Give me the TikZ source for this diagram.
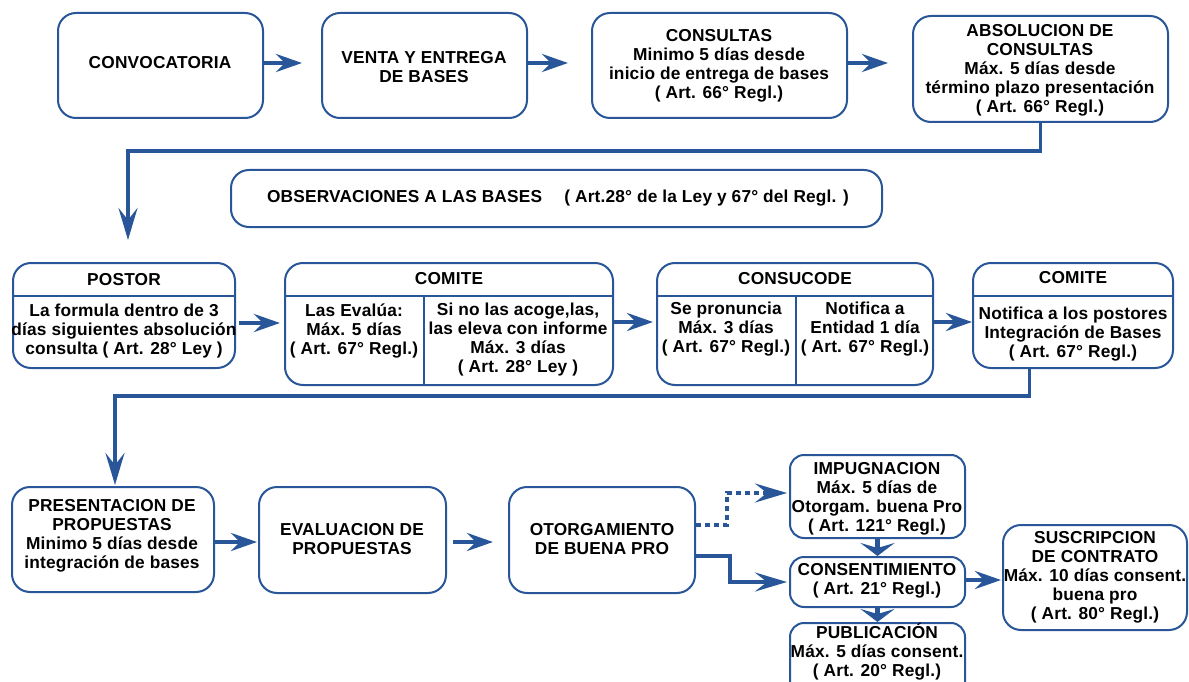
\documentclass[tikz,border=0pt]{standalone}
\usepackage{fontspec}
\newfontfamily\lbl[LetterSpace=1]{Liberation Sans}
\usetikzlibrary{arrows.meta,calc}
\definecolor{bblue}{RGB}{40,86,152}
\begin{document}
\begin{tikzpicture}[x=1pt,y=-1pt,
  box/.style={draw=bblue, line width=2pt, rounded corners=18pt, inner sep=0pt, fill=white},
  sbox/.style={box, rounded corners=14pt},
  txt/.style={align=center, inner sep=0pt, text=black, font=\lbl\bfseries\fontsize{17.3}{19}\selectfont},
  sepline/.style={draw=bblue, line width=1.5pt},
  arr/.style={draw=bblue, line width=4.5pt, -{Stealth[length=26pt,width=18pt,inset=9pt]}},
  conn/.style={draw=bblue, line width=3.5pt, -{Stealth[length=32pt,width=19pt,inset=12pt]}},
  dotconn/.style={draw=bblue, line width=3.5pt, dash pattern=on 5pt off 4pt, -{Stealth[length=32pt,width=19pt,inset=12pt]}},
  chev/.style={draw=bblue, line width=5pt, -{Stealth[length=13pt,width=34pt,inset=5pt]}}]

\useasboundingbox (0,0) rectangle (1189,682);
\fill[white] (0,0) rectangle (1189,682);

% ---- first row ----
\node[box, minimum width=205pt, minimum height=105pt] (conv) at (160.5,65.5) {};
\node[box, minimum width=205pt, minimum height=105pt] (venta) at (424.5,65.5) {};
\node[box, minimum width=255pt, minimum height=105pt] (consul) at (719.5,65.5) {};
\node[box, minimum width=255pt, minimum height=106pt] (absol) at (1040.5,69) {};

\node[txt] (convT) at (160,63) {CONVOCATORIA};
\node[txt] (ventaT) at (424,67) {VENTA Y ENTREGA\\DE BASES};
\node[txt] (consulT) at (719,66) {CONSULTAS\\Minimo 5 días desde\\inicio de entrega de bases\\( Art. 66° Regl.)};
\node[txt] (absolT) at (1040,70) {ABSOLUCION DE\\CONSULTAS\\Máx. 5 días desde\\término plazo presentación\\( Art. 66° Regl.)};

\draw[arr, shorten >=19pt] (conv.east |- 0,63) -- (venta.west |- 0,63);
\draw[arr, shorten >=23pt] (venta.east |- 0,63) -- (consul.west |- 0,63);
\draw[arr, shorten >=24pt] (consul.east |- 0,63) -- (absol.west |- 0,63);

% ---- observations band ----
\node[box, minimum width=651pt, minimum height=57pt] (obs) at (556.5,198.5) {};
\node[txt] (obsT) at (558,198) {OBSERVACIONES A LAS BASES\quad\ ( Art.28° de la Ley y 67° del Regl. )};

% ---- second row ----
\node[box, minimum width=222pt, minimum height=105pt] (postor) at (124,315.5) {};
\node[box, minimum width=328pt, minimum height=122pt] (comite1) at (449,324) {};
\node[box, minimum width=276pt, minimum height=122pt] (consu) at (795,324) {};
\node[box, minimum width=200pt, minimum height=105pt] (comite2) at (1073,315.5) {};

\draw[sepline] (postor.west |- 0,296) -- (postor.east |- 0,296);
\draw[sepline] (comite1.west |- 0,296) -- (comite1.east |- 0,296);
\draw[sepline] (424,296) -- (424,0 |- comite1.south);
\draw[sepline] (consu.west |- 0,296) -- (consu.east |- 0,296);
\draw[sepline] (796,296) -- (796,0 |- consu.south);
\draw[sepline] (comite2.west |- 0,296) -- (comite2.east |- 0,296);

\node[txt] (postorH) at (124,280) {POSTOR};
\node[txt] (postorB) at (124,331) {La formula dentro de 3\\días siguientes absolución\\consulta ( Art. 28° Ley )};
\node[txt] (comite1H) at (449,279) {COMITE};
\node[txt] (comite1L) at (354,331) {Las Evalúa:\\Máx. 5 días\\( Art. 67° Regl.)};
\node[txt] (comite1R) at (518,340) {Si no las acoge,las,\\las eleva con informe\\Máx. 3 días\\( Art. 28° Ley )};
\node[txt] (consuH) at (795,279) {CONSUCODE};
\node[txt] (consuL) at (726,329) {Se pronuncia\\Máx. 3 días\\( Art. 67° Regl.)};
\node[txt] (consuR) at (865,329) {Notifica a\\Entidad 1 día\\( Art. 67° Regl.)};
\node[txt] (comite2H) at (1073,278) {COMITE};
\node[txt] (comite2B) at (1073,334) {Notifica a los postores\\Integración de Bases\\( Art. 67° Regl.)};

\draw[arr, shorten <=3pt, shorten >=4pt] (postor.east |- 0,323) -- (comite1.west |- 0,323);
\draw[arr, shorten >=3pt] (comite1.east |- 0,322) -- (consu.west |- 0,322);
\draw[arr] (consu.east |- 0,322) -- (comite2.west |- 0,322);

% ---- connector from the first row down to POSTOR ----
\coordinate (postorIn) at (128,240);
\draw[conn] (absol.south) -- (1040.5,151) -| (postorIn);

% ---- third row ----
\node[box, minimum width=202pt, minimum height=105pt] (pres) at (113,539.5) {};
\node[box, minimum width=187pt, minimum height=106pt] (eval) at (352.5,540) {};
\node[box, minimum width=186pt, minimum height=106pt] (otorg) at (602,540) {};

\node[txt] (presT) at (112,535.5) {PRESENTACION DE\\PROPUESTAS\\Minimo 5 días desde\\integración de bases};
\node[txt] (evalT) at (352,539) {EVALUACION DE\\PROPUESTAS};
\node[txt] (otorgT) at (602,539) {OTORGAMIENTO\\DE BUENA PRO};

\coordinate (presIn) at (115,485);
\draw[conn] ($(comite2.south west)!0.285!(comite2.south east)$) -- ++(0,27) -| (presIn);

\draw[arr, shorten >=1pt] (pres.east |- 0,542) -- (eval.west |- 0,542);
\draw[arr, shorten <=6pt, shorten >=15pt] (eval.east |- 0,542) -- (otorg.west |- 0,542);

% ---- award branch ----
\node[sbox, minimum width=175pt, minimum height=83pt] (impug) at (877.5,496.5) {};
\node[sbox, minimum width=175pt, minimum height=50pt] (consent) at (877.5,582) {};
\begin{scope}
  \clip (0,0) rectangle (1189,682);
  \node[sbox, minimum width=175pt, minimum height=80pt] (publ) at (877.5,663) {};
\end{scope}
\node[box, minimum width=184pt, minimum height=105pt] (susc) at (1095,577.5) {};

\node[txt] (impugT) at (877,499) {IMPUGNACION\\Máx. 5 días de\\Otorgam. buena Pro\\( Art. 121° Regl.)};
\node[txt] (consentT) at (877,580.5) {CONSENTIMIENTO\\( Art. 21° Regl.)};
\node[txt] (publT) at (877,651.5) {PUBLICACIÓN\\Máx. 5 días consent.\\( Art. 20° Regl.)};
\node[txt] (suscT) at (1095,577.5) {SUSCRIPCION\\DE CONTRATO\\Máx. 10 días consent.\\buena pro\\( Art. 80° Regl.)};

\draw[dotconn, shorten >=2pt] ([yshift=15pt]otorg.east) -| (727,493) -- (impug.west |- 0,493);
\draw[conn, shorten >=2pt] ([yshift=-16pt]otorg.east) -| (730,582) -- (consent.west);
\draw[arr, shorten >=1pt] (consent.east |- 0,580) -- (susc.west |- 0,580);
\draw[chev] (impug.south) -- (consent.north);
\draw[chev] (consent.south) -- (publ.north);
\end{tikzpicture}
\end{document}
